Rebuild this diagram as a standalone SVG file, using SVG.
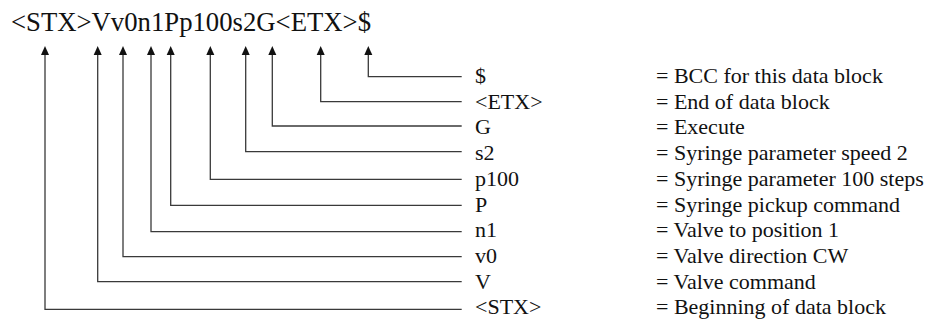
<svg xmlns="http://www.w3.org/2000/svg" width="931" height="325" viewBox="0 0 931 325">
<style>
text{font-family:"Liberation Serif","Times New Roman",serif;fill:#111}
.top{font-size:26.5px}
.lab{font-size:22px}
.con{fill:none;stroke:#3a3a3a;stroke-width:1.3}
.head{fill:#111}
</style>
<defs>
<path id="head" class="head" d="M-4,9 L0,0 L4,9 Z"/>
</defs>
<rect width="931" height="325" fill="#fff"/>
<g id="command"><text class="top" x="11" y="31" textLength="360" lengthAdjust="spacingAndGlyphs">&lt;STX&gt;Vv0n1Pp100s2G&lt;ETX&gt;$</text></g>
<g id="connectors">
<path class="con" d="M368.3,54 V76.7 H461.7"/>
<path class="con" d="M320.7,54 V101.7 H461.7"/>
<path class="con" d="M272.3,54 V126 H461.7"/>
<path class="con" d="M245.7,54 V151.7 H461.7"/>
<path class="con" d="M210.3,54 V179.3 H461.7"/>
<path class="con" d="M170.7,54 V205.3 H461.7"/>
<path class="con" d="M151,54 V231.7 H461.7"/>
<path class="con" d="M123,54 V256.7 H461.7"/>
<path class="con" d="M97.7,54 V281.7 H461.7"/>
<path class="con" d="M45,54 V309.3 H461.7"/>
<use href="#head" x="368.3" y="46"/>
<use href="#head" x="320.7" y="46"/>
<use href="#head" x="272.3" y="46"/>
<use href="#head" x="245.7" y="46"/>
<use href="#head" x="210.3" y="46"/>
<use href="#head" x="170.7" y="46"/>
<use href="#head" x="151" y="46"/>
<use href="#head" x="123" y="46"/>
<use href="#head" x="97.7" y="46"/>
<use href="#head" x="45" y="46"/>
</g>
<g id="item-bcc"><text class="lab" x="475" y="83">$</text><text class="lab" x="656" y="83">= BCC for this data block</text></g>
<g id="item-etx"><text class="lab" x="475" y="108.7">&lt;ETX&gt;</text><text class="lab" x="656" y="108.7">= End of data block</text></g>
<g id="item-g"><text class="lab" x="475" y="134.4">G</text><text class="lab" x="656" y="134.4">= Execute</text></g>
<g id="item-s2"><text class="lab" x="475" y="160.1">s2</text><text class="lab" x="656" y="160.1">= Syringe parameter speed 2</text></g>
<g id="item-p100"><text class="lab" x="475" y="185.8">p100</text><text class="lab" x="656" y="185.8">= Syringe parameter 100 steps</text></g>
<g id="item-p"><text class="lab" x="475" y="211.5">P</text><text class="lab" x="656" y="211.5">= Syringe pickup command</text></g>
<g id="item-n1"><text class="lab" x="475" y="237.2">n1</text><text class="lab" x="656" y="237.2">= Valve to position 1</text></g>
<g id="item-v0"><text class="lab" x="475" y="262.9">v0</text><text class="lab" x="656" y="262.9">= Valve direction CW</text></g>
<g id="item-v"><text class="lab" x="475" y="288.6">V</text><text class="lab" x="656" y="288.6">= Valve command</text></g>
<g id="item-stx"><text class="lab" x="475" y="314.3">&lt;STX&gt;</text><text class="lab" x="656" y="314.3">= Beginning of data block</text></g>
</svg>
